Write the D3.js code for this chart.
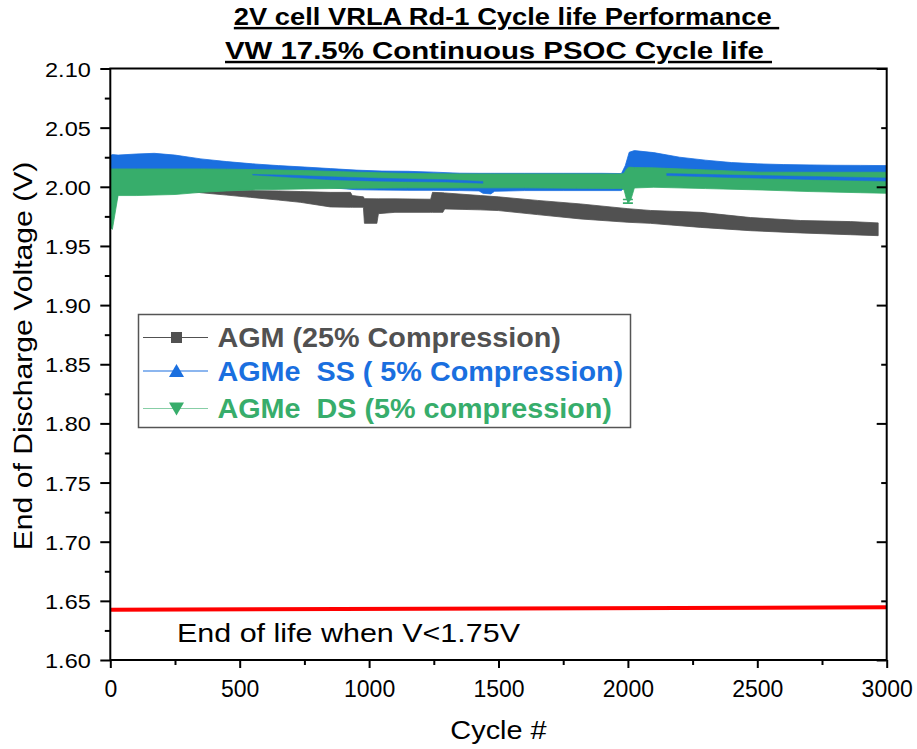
<!DOCTYPE html>
<html>
<head>
<meta charset="utf-8">
<script src="https://cdn.jsdelivr.net/npm/d3@7"></script>
<style>
  html, body { margin: 0; padding: 0; background: #fff; }
  svg { display: block; }
</style>
</head>
<body>
<svg id="chart" width="917" height="749"></svg>
<script>
// ---------------- DATA ----------------
const titleLines = ["2V cell VRLA Rd-1 Cycle life Performance ", "VW 17.5% Continuous PSOC Cycle life "];
const xTicks = [0, 500, 1000, 1500, 2000, 2500, 3000];
const xMinorTicks = [250, 750, 1250, 1750, 2250, 2750];
const yTicks = [1.60, 1.65, 1.70, 1.75, 1.80, 1.85, 1.90, 1.95, 2.00, 2.05, 2.10];
const yMinorTicks = [1.625, 1.675, 1.725, 1.775, 1.825, 1.875, 1.925, 1.975, 2.025, 2.075];
const yRightMajor = [1.6, 1.7, 1.8, 1.9, 2.0, 2.1];
const yRightMinor = [1.65, 1.75, 1.85, 1.95, 2.05];

const seriesNames = ["AGM (25% Compression)", "AGMe  SS ( 5% Compression)", "AGMe  DS (5% compression)"];
const seriesColors = ["#515151", "#1A6FDF", "#37AD6B"];

// AGM (25% compression) - envelope of the dense cycling trace
const agmCycles = [0, 8, 30, 100, 250, 350, 450, 541, 650, 734, 850, 928, 935, 978, 982, 1030, 1036, 1100, 1238, 1245, 1285, 1292, 1430, 1500, 1650, 1818, 2000, 2087, 2281, 2474, 2667, 2860, 2967];
const agmHi = [1.992, 1.985, 1.997, 1.998, 1.9985, 1.9962, 1.9966, 1.9968, 1.9965, 1.9960, 1.9953, 1.9953, 1.9926, 1.9915, 1.9900, 1.9898, 1.9898, 1.9898, 1.9895, 1.9953, 1.9950, 1.9948, 1.9926, 1.9915, 1.9885, 1.9855, 1.9815, 1.9800, 1.9784, 1.9740, 1.9715, 1.9706, 1.9695];
const agmLo = [1.980, 1.978, 1.995, 1.997, 1.9975, 1.9950, 1.9930, 1.9911, 1.9888, 1.9869, 1.9830, 1.9827, 1.9827, 1.9827, 1.9691, 1.9691, 1.9773, 1.9784, 1.9784, 1.9784, 1.9784, 1.9813, 1.9805, 1.9799, 1.9765, 1.9728, 1.9700, 1.9691, 1.9657, 1.9629, 1.9610, 1.9595, 1.9587];

// AGMe SS (5% compression)
const ssCycles = [0, 8, 30, 100, 170, 250, 350, 450, 550, 650, 750, 850, 950, 1050, 1150, 1250, 1350, 1425, 1440, 1470, 1485, 1600, 1750, 1900, 1975, 1990, 2005, 2025, 2100, 2200, 2300, 2400, 2500, 2600, 2700, 2800, 2900, 3000];
const ssHi = [2.0264, 2.0272, 2.0268, 2.0277, 2.0283, 2.0268, 2.0236, 2.0213, 2.0194, 2.0179, 2.0167, 2.0154, 2.0141, 2.0133, 2.0131, 2.0124, 2.0115, 2.0114, 2.0114, 2.0114, 2.0114, 2.0114, 2.0114, 2.0114, 2.0112, 2.0179, 2.0292, 2.0306, 2.0289, 2.0250, 2.0225, 2.0205, 2.0194, 2.0188, 2.0185, 2.0182, 2.0181, 2.0179];
const ssLo = [1.975, 1.973, 1.994, 1.9945, 1.995, 1.9955, 1.997, 1.998, 1.9985, 1.999, 1.999, 1.9993, 1.9975, 1.9972, 1.9970, 1.9970, 1.9968, 1.9965, 1.9945, 1.9940, 1.9962, 1.9968, 1.9968, 1.9968, 1.9968, 2.000, 2.002, 2.003, 2.003, 2.003, 2.003, 2.003, 2.003, 2.003, 2.003, 2.003, 2.003, 2.003];
// thin SS trace visible through the DS band
const ssStripeCycles = [550, 700, 850, 1000, 1120, 1300, 1440, 1460, 2150, 2400, 2700, 3000];
const ssStripeHi = [2.0105, 2.0098, 2.0085, 2.0075, 2.0068, 2.0060, 2.0045, null, 2.0112, 2.0100, 2.0088, 2.0075];
const ssStripeLo = [2.0100, 2.0080, 2.0060, 2.0050, 2.0045, 2.0040, 2.0030, null, 2.0095, 2.0078, 2.0062, 2.0048];

// AGMe DS (5% compression)
const dsCycles = [0, 8, 30, 100, 250, 350, 450, 550, 750, 950, 1150, 1350, 1600, 1800, 1975, 1985, 1995, 2003, 2012, 2025, 2100, 2300, 2500, 2700, 2900, 3000];
const dsHi = [2.0151, 2.0151, 2.0151, 2.0151, 2.0151, 2.0151, 2.0149, 2.0146, 2.0137, 2.0124, 2.0112, 2.0109, 2.0109, 2.0109, 2.0109, 2.0115, 2.0150, 2.0165, 2.0165, 2.0163, 2.0160, 2.0143, 2.0124, 2.0123, 2.0123, 2.0123];
const dsLo = [1.966, 1.964, 1.9926, 1.9926, 1.9935, 1.9953, 1.9965, 1.9974, 1.9982, 1.9988, 1.9991, 1.9991, 1.9991, 1.9988, 1.9985, 1.9975, 1.9890, 1.9870, 1.9895, 1.9990, 1.9996, 1.9985, 1.9974, 1.9960, 1.9950, 1.9945];
const dsErrCycles = [2000];
const dsErrLo = [1.9862];
const dsErrHi = [1.9893];

// End-of-life reference line
const eolCycles = [0, 3000];
const eolV = [1.6425, 1.6445];
const eolText = "End of life when V<1.75V";

const xTitle = "Cycle #";
const yTitle = "End of Discharge Voltage (V)";

// ---------------- DRAWING ----------------
const FONT = "'Liberation Sans', Arial, Helvetica, sans-serif";
const svg = d3.select("#chart");
const x = d3.scaleLinear().domain([0, 3000]).range([110.3, 886.7]);
const y = d3.scaleLinear().domain([1.60, 2.10]).range([660, 68.5]);

svg.append("defs").append("clipPath").attr("id", "plotclip")
  .append("rect").attr("x", x(0)).attr("y", y(2.10))
  .attr("width", x(3000) - x(0)).attr("height", y(1.60) - y(2.10));

const plot = svg.append("g").attr("clip-path", "url(#plotclip)");

function band(cycles, hi, lo) {
  return cycles.map((c, i) => ({c, hi: hi[i], lo: lo[i]}));
}
const area = d3.area()
  .defined(d => d.hi != null && d.lo != null)
  .x(d => x(d.c)).y0(d => y(d.lo)).y1(d => y(d.hi));

plot.append("path").datum(band(agmCycles, agmHi, agmLo))
  .attr("d", area).attr("fill", seriesColors[0]).attr("stroke", seriesColors[0]).attr("stroke-width", 0.8);
plot.append("path").datum(band(ssCycles, ssHi, ssLo))
  .attr("d", area).attr("fill", seriesColors[1]).attr("stroke", seriesColors[1]).attr("stroke-width", 0.8);
plot.append("path").datum(band(dsCycles, dsHi, dsLo))
  .attr("d", area).attr("fill", seriesColors[2]).attr("stroke", seriesColors[2]).attr("stroke-width", 0.8);
plot.append("path").datum(band(ssStripeCycles, ssStripeHi, ssStripeLo))
  .attr("d", area).attr("fill", seriesColors[1]).attr("stroke", seriesColors[1]).attr("stroke-width", 0.5);

// DS error bar
dsErrCycles.forEach((c, i) => {
  const g = plot.append("g").attr("stroke", seriesColors[2]).attr("stroke-width", 1.6);
  g.append("line").attr("x1", x(c)).attr("x2", x(c)).attr("y1", y(dsErrHi[i])).attr("y2", y(dsErrLo[i]));
  g.append("line").attr("x1", x(c) - 5).attr("x2", x(c) + 5).attr("y1", y(dsErrLo[i])).attr("y2", y(dsErrLo[i]));
  g.append("line").attr("x1", x(c) - 5).attr("x2", x(c) + 5).attr("y1", y(dsErrHi[i])).attr("y2", y(dsErrHi[i]));
});

// End-of-life line
plot.append("path").datum(eolCycles.map((c, i) => [c, eolV[i]]))
  .attr("d", d3.line().x(d => x(d[0])).y(d => y(d[1])))
  .attr("fill", "none").attr("stroke", "#ff0000").attr("stroke-width", 4);

// helper for (slightly wide) text
function stext(parent, px, py, str, o) {
  const g = parent.append("g")
    .attr("transform", `translate(${px},${py})` + (o.rotate ? ` rotate(${o.rotate})` : "") + ` scale(${o.sx || 1},1)`);
  const t = g.append("text")
    .attr("text-anchor", o.anchor || "start")
    .attr("fill", o.fill || "#000")
    .style("font-family", FONT)
    .style("font-size", o.size + "px")
    .style("font-weight", o.weight || "normal")
    .style("white-space", "pre")
    .text(str);
  if (o.underline) t.style("text-decoration", "underline");
  return t;
}

// Axes
const axG = svg.append("g");
// left
const leftAxis = axG.append("g").attr("transform", `translate(${x(0)},0)`)
  .call(d3.axisLeft(y).tickValues(yTicks).tickSizeInner(10).tickSizeOuter(0).tickPadding(9.5).tickFormat(d3.format(".2f")));
const YSX = 1.12;
leftAxis.selectAll("text")
  .style("font-family", FONT).style("font-size", "21px").attr("fill", "#000")
  .attr("x", -19.5 / YSX).attr("dy", "0.36em").attr("transform", `scale(${YSX},1)`);
axG.append("g").attr("transform", `translate(${x(0)},0)`)
  .call(d3.axisLeft(y).tickValues(yMinorTicks).tickSizeInner(5.5).tickSizeOuter(0).tickFormat(""));
// right (inward ticks)
axG.append("g").attr("transform", `translate(${x(3000)},0)`)
  .call(d3.axisRight(y).tickValues(yRightMajor).tickSizeInner(-10).tickSizeOuter(0).tickFormat(""));
axG.append("g").attr("transform", `translate(${x(3000)},0)`)
  .call(d3.axisRight(y).tickValues(yRightMinor).tickSizeInner(-5.5).tickSizeOuter(0).tickFormat(""));
// bottom
const bottomAxis = axG.append("g").attr("transform", `translate(0,${y(1.60)})`)
  .call(d3.axisBottom(x).tickValues(xTicks).tickSizeInner(8).tickSizeOuter(0).tickFormat(d3.format("d")));
bottomAxis.selectAll("text")
  .style("font-family", FONT).style("font-size", "23px").attr("fill", "#000")
  .attr("y", 37).attr("dy", "0");
axG.append("g").attr("transform", `translate(0,${y(1.60)})`)
  .call(d3.axisBottom(x).tickValues(xMinorTicks).tickSizeInner(5).tickSizeOuter(0).tickFormat(""));
axG.selectAll(".domain").remove();
axG.selectAll(".tick line").attr("stroke", "#000").attr("stroke-width", 2);

// frame
svg.append("rect").attr("x", x(0)).attr("y", y(2.10))
  .attr("width", x(3000) - x(0)).attr("height", y(1.60) - y(2.10))
  .attr("fill", "none").attr("stroke", "#000").attr("stroke-width", 2);

// Titles
stext(svg, 506.5, 25, titleLines[0], {size: 24.5, weight: "bold", anchor: "middle", sx: 1.115, underline: true});
stext(svg, 498.5, 59, titleLines[1], {size: 24.5, weight: "bold", anchor: "middle", sx: 1.2, underline: true});

// Axis titles
stext(svg, 498.5, 739, xTitle, {size: 25.6, anchor: "middle", sx: 1.13});
stext(svg, 32, 356, yTitle, {size: 26, anchor: "middle", sx: 1.16, rotate: -90});

// End-of-life annotation
stext(svg, 177, 642, eolText, {size: 26.5, sx: 1.15});

// Legend
const leg = svg.append("g");
leg.append("rect").attr("x", 138.5).attr("y", 314.5).attr("width", 492).attr("height", 113)
  .attr("fill", "#fff").attr("stroke", "#555").attr("stroke-width", 1.5);
const rowY = [337.5, 371, 408.5];
const lineOpacity = [1, 1, 0.6];
seriesNames.forEach((name, i) => {
  const cy = rowY[i];
  leg.append("line").attr("x1", 143).attr("x2", 208).attr("y1", cy).attr("y2", cy)
    .attr("stroke", seriesColors[i]).attr("stroke-width", 1.2).attr("stroke-opacity", lineOpacity[i]);
  const cx = 176.5;
  if (i === 0) {
    leg.append("rect").attr("x", cx - 5.5).attr("y", cy - 5.5).attr("width", 11).attr("height", 11).attr("fill", seriesColors[i]);
  } else if (i === 1) {
    leg.append("path").attr("d", `M${cx},${cy - 7}L${cx + 7.5},${cy + 6}L${cx - 7.5},${cy + 6}Z`).attr("fill", seriesColors[i]);
  } else {
    leg.append("path").attr("d", `M${cx},${cy + 7}L${cx + 7.5},${cy - 6}L${cx - 7.5},${cy - 6}Z`).attr("fill", seriesColors[i]);
  }
  stext(leg, 217.5, cy + 9.5, name, {size: 27, weight: "bold", fill: seriesColors[i], sx: 1.065});
});
</script>
</body>
</html>
